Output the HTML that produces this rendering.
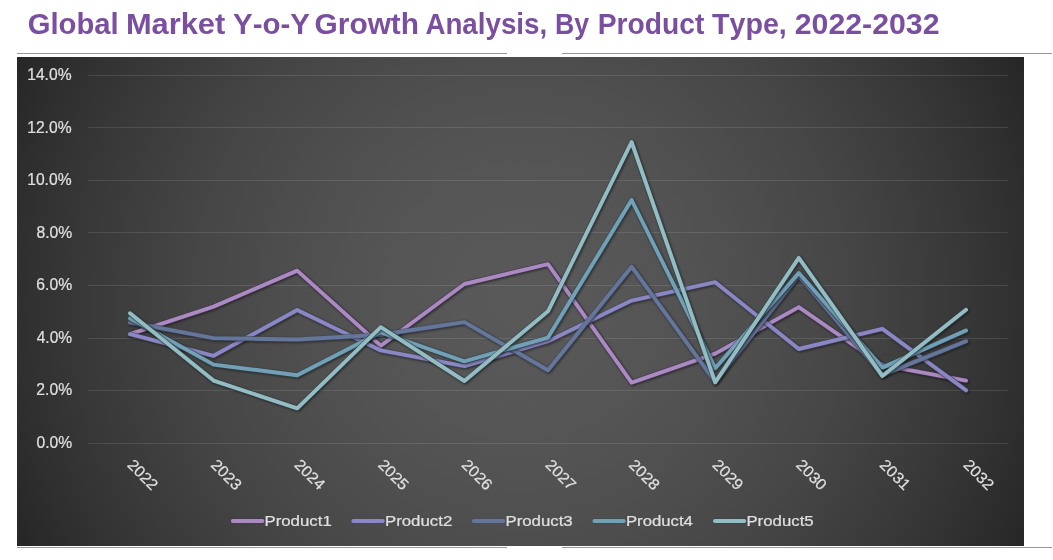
<!DOCTYPE html>
<html lang="en"><head><meta charset="utf-8"><title>Global Market Y-o-Y Growth Analysis, By Product Type, 2022-2032</title>
<style>html,body{margin:0;padding:0;background:#fff}body{width:1053px;height:560px;overflow:hidden}svg{display:block}text{font-family:"Liberation Sans",sans-serif;font-kerning:none;white-space:pre}.l{stroke:#e0e0e0;stroke-width:.2px;stroke-linejoin:round}</style></head><body>
<svg width="1053" height="560" viewBox="0 0 1053 560">
<defs>
<radialGradient id="bg" gradientUnits="userSpaceOnUse" cx="520.5" cy="301.5" r="560"><stop offset="0" stop-color="#595959"/><stop offset="0.1" stop-color="#585858"/><stop offset="0.2" stop-color="#565656"/><stop offset="0.3" stop-color="#535353"/><stop offset="0.4" stop-color="#4f4f4f"/><stop offset="0.5" stop-color="#4a4a4a"/><stop offset="0.6" stop-color="#454545"/><stop offset="0.7" stop-color="#3e3e3e"/><stop offset="0.8" stop-color="#373737"/><stop offset="0.9" stop-color="#2f2f2f"/><stop offset="1" stop-color="#262626"/></radialGradient>
<filter id="sh" filterUnits="userSpaceOnUse" x="17" y="57" width="1007" height="489" color-interpolation-filters="sRGB"><feGaussianBlur in="SourceAlpha" stdDeviation="1.2"/><feOffset dx="0.8" dy="1"/><feComponentTransfer><feFuncA type="linear" slope="0.5"/></feComponentTransfer><feMerge><feMergeNode/><feMergeNode in="SourceGraphic"/></feMerge></filter>
</defs>
<rect width="1053" height="560" fill="#fff"/>
<text y="33.70" font-size="29.90" font-weight="700" fill="#7b4fa0"><tspan x="27.70" textLength="90.97" lengthAdjust="spacingAndGlyphs">Global</tspan> <tspan x="125.94" textLength="99.34" lengthAdjust="spacingAndGlyphs">Market</tspan> <tspan x="233.00" textLength="76.88" lengthAdjust="spacingAndGlyphs">Y-o-Y</tspan> <tspan x="314.58" textLength="104.48" lengthAdjust="spacingAndGlyphs">Growth</tspan> <tspan x="425.41" textLength="121.75" lengthAdjust="spacingAndGlyphs">Analysis,</tspan> <tspan x="554.91" textLength="34.13" lengthAdjust="spacingAndGlyphs">By</tspan> <tspan x="597.71" textLength="106.63" lengthAdjust="spacingAndGlyphs">Product</tspan> <tspan x="712.08" textLength="74.74" lengthAdjust="spacingAndGlyphs">Type,</tspan> <tspan x="794.75" textLength="144.76" lengthAdjust="spacingAndGlyphs">2022-2032</tspan></text>
<path d="M17 53.5 H507 M562 53.5 H1052" stroke="#9a969b" stroke-width="1" fill="none"/>
<path d="M17 547.5 H507 M562 547.5 H1052" stroke="#9a969b" stroke-width="1" fill="none"/>
<rect x="17" y="57" width="1007" height="489" fill="url(#bg)"/>
<path d="M88 75.5 H1008 M88 127.5 H1008 M88 180.5 H1008 M88 232.5 H1008 M88 285.5 H1008 M88 338.5 H1008 M88 390.5 H1008 M88 443.5 H1008" stroke="#f2f2f2" stroke-opacity="0.115" stroke-width="1" fill="none"/>
<text transform="translate(27.21 80.00) scale(1.0026 1)" font-size="15.60" fill="#e0e0e0" class="l">14.0%</text>
<text transform="translate(27.21 132.57) scale(1.0026 1)" font-size="15.60" fill="#e0e0e0" class="l">12.0%</text>
<text transform="translate(27.21 185.14) scale(1.0026 1)" font-size="15.60" fill="#e0e0e0" class="l">10.0%</text>
<text transform="translate(36.42 237.71) scale(1.0052 1)" font-size="15.60" fill="#e0e0e0" class="l">8.0%</text>
<text transform="translate(36.30 290.29) scale(1.0085 1)" font-size="15.60" fill="#e0e0e0" class="l">6.0%</text>
<text transform="translate(36.74 342.86) scale(0.9959 1)" font-size="15.60" fill="#e0e0e0" class="l">4.0%</text>
<text transform="translate(36.31 395.43) scale(1.0083 1)" font-size="15.60" fill="#e0e0e0" class="l">2.0%</text>
<text transform="translate(36.49 448.00) scale(1.0032 1)" font-size="15.60" fill="#e0e0e0" class="l">0.0%</text>
<text transform="translate(142.90 474.60) rotate(45) translate(-17.91 5.45) scale(1.0321 1)" font-size="15.60" fill="#e0e0e0" class="l">2022</text>
<text transform="translate(226.50 474.60) rotate(45) translate(-17.91 5.45) scale(1.0291 1)" font-size="15.60" fill="#e0e0e0" class="l">2023</text>
<text transform="translate(310.10 474.60) rotate(45) translate(-17.90 5.45) scale(1.0220 1)" font-size="15.60" fill="#e0e0e0" class="l">2024</text>
<text transform="translate(393.70 474.60) rotate(45) translate(-17.91 5.45) scale(1.0281 1)" font-size="15.60" fill="#e0e0e0" class="l">2025</text>
<text transform="translate(477.30 474.60) rotate(45) translate(-17.91 5.45) scale(1.0291 1)" font-size="15.60" fill="#e0e0e0" class="l">2026</text>
<text transform="translate(560.90 474.60) rotate(45) translate(-17.91 5.45) scale(1.0321 1)" font-size="15.60" fill="#e0e0e0" class="l">2027</text>
<text transform="translate(644.50 474.60) rotate(45) translate(-17.91 5.45) scale(1.0288 1)" font-size="15.60" fill="#e0e0e0" class="l">2028</text>
<text transform="translate(728.10 474.60) rotate(45) translate(-17.91 5.45) scale(1.0307 1)" font-size="15.60" fill="#e0e0e0" class="l">2029</text>
<text transform="translate(811.70 474.60) rotate(45) translate(-17.91 5.45) scale(1.0267 1)" font-size="15.60" fill="#e0e0e0" class="l">2030</text>
<text transform="translate(895.30 474.60) rotate(45) translate(-17.91 5.45) scale(1.0314 1)" font-size="15.60" fill="#e0e0e0" class="l">2031</text>
<text transform="translate(978.90 474.60) rotate(45) translate(-17.91 5.45) scale(1.0321 1)" font-size="15.60" fill="#e0e0e0" class="l">2032</text>
<g fill="none" stroke-linejoin="round" stroke-linecap="round">
<g filter="url(#sh)"><polyline points="130.0,334.2 213.6,306.6 297.2,270.6 380.8,345.8 464.4,284.0 548.0,264.1 631.6,382.6 715.2,353.6 798.8,307.1 882.4,365.1 966.0,380.6" stroke="#45355a" stroke-opacity="0.62" stroke-width="5.4"/><polyline points="130.0,334.2 213.6,306.6 297.2,270.6 380.8,345.8 464.4,284.0 548.0,264.1 631.6,382.6 715.2,353.6 798.8,307.1 882.4,365.1 966.0,380.6" stroke="#aa8ac0" stroke-width="3.9"/></g>
<g filter="url(#sh)"><polyline points="130.0,334.2 213.6,355.8 297.2,310.0 380.8,350.4 464.4,366.1 548.0,341.2 631.6,300.6 715.2,282.2 798.8,349.0 882.4,328.9 966.0,390.3" stroke="#444858" stroke-opacity="0.62" stroke-width="5.4"/><polyline points="130.0,334.2 213.6,355.8 297.2,310.0 380.8,350.4 464.4,366.1 548.0,341.2 631.6,300.6 715.2,282.2 798.8,349.0 882.4,328.9 966.0,390.3" stroke="#8b87c5" stroke-width="3.9"/></g>
<g filter="url(#sh)"><polyline points="130.0,322.4 213.6,338.1 297.2,339.5 380.8,334.7 464.4,322.1 548.0,370.3 631.6,266.7 715.2,381.8 798.8,275.4 882.4,374.9 966.0,341.2" stroke="#454c5e" stroke-opacity="0.62" stroke-width="5.4"/><polyline points="130.0,322.4 213.6,338.1 297.2,339.5 380.8,334.7 464.4,322.1 548.0,370.3 631.6,266.7 715.2,381.8 798.8,275.4 882.4,374.9 966.0,341.2" stroke="#65769b" stroke-width="3.9"/></g>
<g filter="url(#sh)"><polyline points="130.0,318.4 213.6,364.6 297.2,375.2 380.8,332.3 464.4,361.3 548.0,337.6 631.6,200.0 715.2,368.2 798.8,273.0 882.4,367.6 966.0,330.5" stroke="#364c54" stroke-opacity="0.62" stroke-width="5.4"/><polyline points="130.0,318.4 213.6,364.6 297.2,375.2 380.8,332.3 464.4,361.3 548.0,337.6 631.6,200.0 715.2,368.2 798.8,273.0 882.4,367.6 966.0,330.5" stroke="#72a0b6" stroke-width="3.9"/></g>
<g filter="url(#sh)"><polyline points="130.0,313.2 213.6,380.6 297.2,408.3 380.8,327.1 464.4,381.0 548.0,311.3 631.6,142.0 715.2,382.3 798.8,257.8 882.4,376.0 966.0,309.8" stroke="#34454c" stroke-opacity="0.62" stroke-width="5.4"/><polyline points="130.0,313.2 213.6,380.6 297.2,408.3 380.8,327.1 464.4,381.0 548.0,311.3 631.6,142.0 715.2,382.3 798.8,257.8 882.4,376.0 966.0,309.8" stroke="#94bcc3" stroke-width="3.9"/></g>
</g>
<g fill="none" stroke-linecap="round">
<path d="M232.8 521 H262.4" stroke="#45355a" stroke-opacity="0.62" stroke-width="5.4"/><path d="M232.8 521 H262.4" stroke="#aa8ac0" stroke-width="3.9"/>
<text transform="translate(264.42 526.10) scale(1.0865 1)" font-size="15.50" fill="#e0e0e0" class="l">Product1</text>
<path d="M353.3 521 H382.8" stroke="#444858" stroke-opacity="0.62" stroke-width="5.4"/><path d="M353.3 521 H382.8" stroke="#8b87c5" stroke-width="3.9"/>
<text transform="translate(384.92 526.10) scale(1.0869 1)" font-size="15.50" fill="#e0e0e0" class="l">Product2</text>
<path d="M473.8 521 H503.3" stroke="#454c5e" stroke-opacity="0.62" stroke-width="5.4"/><path d="M473.8 521 H503.3" stroke="#65769b" stroke-width="3.9"/>
<text transform="translate(505.42 526.10) scale(1.0851 1)" font-size="15.50" fill="#e0e0e0" class="l">Product3</text>
<path d="M594.4 521 H623.8" stroke="#364c54" stroke-opacity="0.62" stroke-width="5.4"/><path d="M594.4 521 H623.8" stroke="#72a0b6" stroke-width="3.9"/>
<text transform="translate(625.93 526.10) scale(1.0810 1)" font-size="15.50" fill="#e0e0e0" class="l">Product4</text>
<path d="M714.9 521 H744.3" stroke="#34454c" stroke-opacity="0.62" stroke-width="5.4"/><path d="M714.9 521 H744.3" stroke="#94bcc3" stroke-width="3.9"/>
<text transform="translate(746.42 526.10) scale(1.0846 1)" font-size="15.50" fill="#e0e0e0" class="l">Product5</text>
</g>
</svg></body></html>
